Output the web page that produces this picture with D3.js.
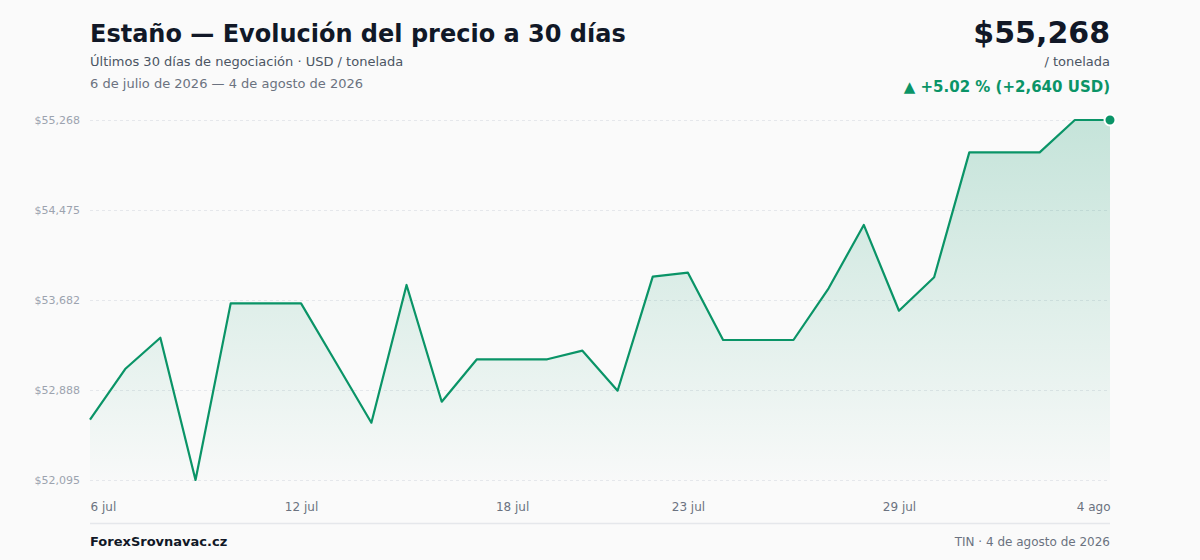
<!DOCTYPE html>
<html>
<head>
<meta charset="utf-8">
<script src="https://d3js.org/d3.v7.min.js"></script>
<style>
  html, body { margin: 0; padding: 0; background: #fafafa; }
  svg { display: block; font-family: "DejaVu Sans", sans-serif; }
</style>
</head>
<body>
<script>
// daily closes, 6 jul - 4 ago 2026 (USD / tonelada)
var dates = ["2026-07-06","2026-07-07","2026-07-08","2026-07-09","2026-07-10","2026-07-11",
  "2026-07-12","2026-07-13","2026-07-14","2026-07-15","2026-07-16","2026-07-17","2026-07-18",
  "2026-07-19","2026-07-20","2026-07-21","2026-07-22","2026-07-23","2026-07-24","2026-07-25",
  "2026-07-26","2026-07-27","2026-07-28","2026-07-29","2026-07-30","2026-07-31","2026-08-01",
  "2026-08-02","2026-08-03","2026-08-04"];
var prices = [52628, 53073, 53349, 52095, 53652, 53652, 53652, 53126, 52600, 53814,
  52785, 53159, 53159, 53159, 53235, 52882, 53887, 53922, 53329, 53329,
  53329, 53785, 54343, 53587, 53882, 54983, 54983, 54983, 55268, 55268];
var tickDates = ["2026-07-06","2026-07-12","2026-07-18","2026-07-23","2026-07-29","2026-08-04"];
var tickLabels = ["6 jul","12 jul","18 jul","23 jul","29 jul","4 ago"];

var W = 1200, H = 560;
var margin = {top: 120, right: 90, bottom: 80, left: 90};
var green = "#0a9467";
var font = "'DejaVu Sans', sans-serif";

var parse = d3.timeParse("%Y-%m-%d");
var data = dates.map((d, i) => ({date: parse(d), value: prices[i]}));

var svg = d3.select("body").append("svg")
    .attr("width", W)
    .attr("height", H);

var x = d3.scaleTime()
    .domain(d3.extent(data, d => d.date))
    .range([margin.left, W - margin.right]);

var lo = d3.min(prices), hi = d3.max(prices);
var y = d3.scaleLinear()
    .domain([lo, hi])
    .range([H - margin.bottom, margin.top]);

var yTicks = d3.range(5).map(i => lo + i * (hi - lo) / 4);
var fmt = d3.format(",.0f");

// gradient for the area
var grad = svg.append("defs").append("linearGradient")
    .attr("id", "fill").attr("x1", 0).attr("x2", 0).attr("y1", 0).attr("y2", 1);
grad.append("stop").attr("offset", "0%").attr("stop-color", green).attr("stop-opacity", 0.22);
grad.append("stop").attr("offset", "100%").attr("stop-color", green).attr("stop-opacity", 0.01);

// grid + y labels
var yAxis = g => g
    .attr("transform", `translate(${margin.left},0)`)
    .call(d3.axisLeft(y).tickValues(yTicks).tickSize(-(W - margin.left - margin.right))
        .tickPadding(10).tickFormat(d => "$" + fmt(d)))
    .attr("font-family", font)
    .call(g => g.select(".domain").remove())
    .call(g => g.selectAll(".tick line")
        .attr("stroke", "#e5e7eb").attr("stroke-dasharray", "3,3"))
    .call(g => g.selectAll(".tick text")
        .attr("fill", "#9ca3af").attr("font-size", 11));
svg.append("g").call(yAxis);

// area + line
svg.append("path")
    .datum(data)
    .attr("fill", "url(#fill)")
    .attr("d", d3.area()
        .x(d => x(d.date))
        .y0(H - margin.bottom)
        .y1(d => y(d.value)));

svg.append("path")
    .datum(data)
    .attr("fill", "none")
    .attr("stroke", green)
    .attr("stroke-width", 2.2)
    .attr("stroke-linejoin", "round")
    .attr("d", d3.line()
        .x(d => x(d.date))
        .y(d => y(d.value)));

var last = data[data.length - 1];
svg.append("circle")
    .attr("cx", x(last.date))
    .attr("cy", y(last.value))
    .attr("r", 5.5)
    .attr("fill", green)
    .attr("stroke", "#fff")
    .attr("stroke-width", 2);

// x axis labels
var xAxis = g => g
    .attr("transform", `translate(0,${H - margin.bottom})`)
    .call(d3.axisBottom(x).tickValues(tickDates.map(parse)).tickSize(0).tickPadding(22)
        .tickFormat((d, i) => tickLabels[i]))
    .attr("font-family", font)
    .call(g => g.select(".domain").remove())
    .call(g => g.selectAll(".tick text")
        .attr("fill", "#6b7280").attr("font-size", 12)
        .attr("text-anchor", (d, i) => i == 0 ? "start" : i == tickLabels.length - 1 ? "end" : "middle"));
svg.append("g").call(xAxis);

// header
svg.append("text").attr("x", 90).attr("y", 42)
    .attr("font-size", 24).attr("font-weight", "bold").attr("fill", "#111827")
    .text("Estaño — Evolución del precio a 30 días");
svg.append("text").attr("x", 90).attr("y", 66)
    .attr("font-size", 13).attr("fill", "#4b5563")
    .text("Últimos 30 días de negociación · USD / tonelada");
svg.append("text").attr("x", 90).attr("y", 88)
    .attr("font-size", 13).attr("fill", "#6b7280")
    .text("6 de julio de 2026 — 4 de agosto de 2026");

var first = data[0];
var diff = last.value - first.value;
var pct = diff / first.value * 100;

svg.append("text").attr("x", 1110).attr("y", 43).attr("text-anchor", "end")
    .attr("font-size", 30).attr("font-weight", "bold").attr("fill", "#111827")
    .text("$" + fmt(last.value));
svg.append("text").attr("x", 1110).attr("y", 66).attr("text-anchor", "end")
    .attr("font-size", 13).attr("fill", "#4b5563")
    .text("/ tonelada");
svg.append("text").attr("x", 1110).attr("y", 92).attr("text-anchor", "end")
    .attr("font-size", 15).attr("font-weight", "bold").attr("fill", green)
    .text("▲ +" + pct.toFixed(2) + " % (+" + fmt(diff) + " USD)");

// footer
svg.append("line")
    .attr("x1", 90).attr("x2", 1110).attr("y1", 523.5).attr("y2", 523.5)
    .attr("stroke", "#e5e7eb").attr("stroke-width", 1.5);
svg.append("text").attr("x", 90).attr("y", 546)
    .attr("font-size", 13).attr("font-weight", "bold").attr("fill", "#111827")
    .text("ForexSrovnavac.cz");
svg.append("text").attr("x", 1110).attr("y", 546).attr("text-anchor", "end")
    .attr("font-size", 12).attr("fill", "#6b7280")
    .text("TIN · 4 de agosto de 2026");
</script>
</body>
</html>
